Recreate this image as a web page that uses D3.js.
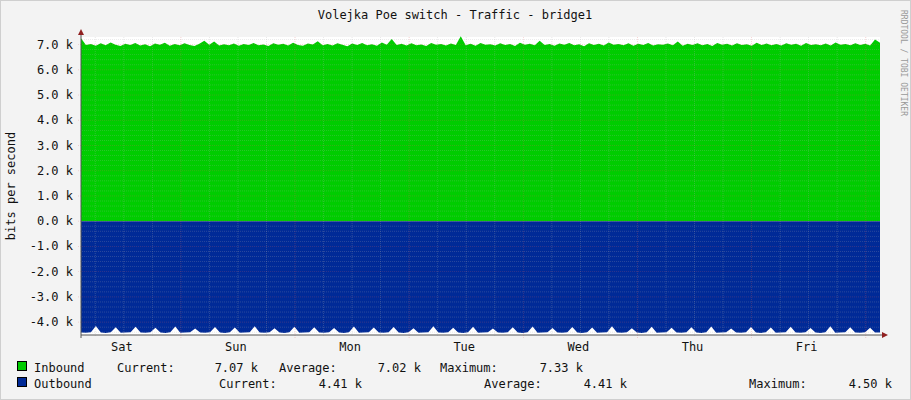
<!DOCTYPE html>
<html><head><meta charset="utf-8">
<script src="https://cdn.jsdelivr.net/npm/d3@7"></script>
<style>body{margin:0;background:#fff}text{font-family:"DejaVu Sans Mono",monospace;}</style>
</head><body><svg id="c" width="911" height="400"></svg>
<script>
const dayLabels=["Sat","Sun","Mon","Tue","Wed","Thu","Fri"];
const yTicks=[-4,-3,-2,-1,0,1,2,3,4,5,6,7];
const inbound=[7.25,6.98,7.02,6.95,7.05,6.97,7.08,6.99,6.94,7.03,6.98,7.06,6.96,7.01,6.93,7.04,6.99,7.07,6.95,7.02,6.97,7.05,6.98,6.94,7.03,7.15,6.99,7.12,6.96,7.01,6.97,7.04,6.95,7.02,6.98,7.06,6.97,7.00,6.94,7.05,6.99,7.03,6.96,7.07,6.98,6.95,7.04,7.00,7.13,6.97,7.02,6.96,7.05,6.99,6.93,7.04,6.98,7.06,6.97,7.01,6.95,7.08,6.99,7.22,6.98,7.03,6.96,7.05,6.97,7.00,6.94,7.06,6.99,7.02,6.96,7.04,6.98,7.33,6.97,7.03,6.95,7.06,6.99,7.01,6.96,7.05,6.98,7.02,6.94,7.07,6.99,7.03,6.97,7.15,6.98,7.02,6.95,7.04,6.99,7.06,6.97,7.01,6.93,7.05,6.98,7.03,6.96,7.08,6.99,7.02,6.97,7.05,6.95,7.03,6.98,7.06,6.96,7.01,6.99,7.04,6.97,7.12,6.95,7.03,6.98,7.05,6.97,7.02,6.94,7.06,6.99,7.03,6.96,7.05,6.98,7.01,6.95,7.07,6.98,7.04,6.97,7.02,6.96,7.05,6.99,7.03,6.95,7.06,6.98,7.01,6.97,7.04,6.96,7.08,6.99,7.02,6.97,7.05,6.98,7.03,6.96,7.20,7.07];
const outbound=[-4.41,-4.42,-4.40,-4.15,-4.41,-4.43,-4.40,-4.20,-4.42,-4.41,-4.40,-4.18,-4.41,-4.42,-4.40,-4.22,-4.41,-4.43,-4.40,-4.17,-4.42,-4.41,-4.40,-4.25,-4.41,-4.42,-4.40,-4.19,-4.41,-4.43,-4.40,-4.21,-4.42,-4.41,-4.40,-4.16,-4.41,-4.42,-4.40,-4.24,-4.41,-4.43,-4.40,-4.18,-4.42,-4.41,-4.40,-4.20,-4.41,-4.42,-4.40,-4.23,-4.41,-4.43,-4.40,-4.17,-4.42,-4.41,-4.40,-4.21,-4.41,-4.42,-4.40,-4.19,-4.41,-4.43,-4.40,-4.24,-4.42,-4.41,-4.40,-4.16,-4.41,-4.42,-4.40,-4.22,-4.41,-4.43,-4.40,-4.18,-4.42,-4.41,-4.40,-4.25,-4.41,-4.42,-4.40,-4.20,-4.41,-4.43,-4.40,-4.17,-4.42,-4.41,-4.40,-4.23,-4.41,-4.42,-4.40,-4.19,-4.41,-4.43,-4.40,-4.21,-4.42,-4.41,-4.40,-4.16,-4.41,-4.42,-4.40,-4.24,-4.41,-4.43,-4.40,-4.18,-4.42,-4.41,-4.40,-4.22,-4.41,-4.42,-4.40,-4.20,-4.41,-4.43,-4.40,-4.17,-4.42,-4.41,-4.40,-4.25,-4.41,-4.42,-4.40,-4.19,-4.41,-4.43,-4.40,-4.21,-4.42,-4.41,-4.40,-4.18,-4.41,-4.42,-4.40,-4.23,-4.41,-4.43,-4.40,-4.16,-4.42,-4.41,-4.40,-4.20,-4.41,-4.42,-4.40,-4.22,-4.41,-4.41];
const svg=d3.select("#c");
svg.append("rect").attr("width",911).attr("height",400).attr("fill","#f3f3f3");
svg.append("rect").attr("x",0.5).attr("y",0.5).attr("width",910).attr("height",399).attr("fill","none").attr("stroke","#cfcfcf");
const L=81,R=880,T=37,B=335;
const hours=7*24, firstMid=21;
const x=d3.scaleLinear().domain([0,hours]).range([L,R]);
const y=d3.scaleLinear().domain([-4.51,7.3]).range([B,T]);
svg.append("rect").attr("x",L).attr("y",T).attr("width",R-L).attr("height",B-T).attr("fill","#fff");
const mk=(arr,curve)=>{const st=hours/(arr.length-1);
  return d3.area().curve(curve).x((d,i)=>x(i*st)).y0(y(0)).y1(d=>y(d));};
svg.append("path").datum(inbound).attr("d",mk(inbound,d3.curveLinear)).attr("fill","#00cc00");
svg.append("path").datum(outbound).attr("d",mk(outbound,d3.curveLinear)).attr("fill","#002a97");
const g=svg.append("g");
for(let h=firstMid-18;h<=hours;h+=6){ if(h<=0)continue;
  const major=((h-firstMid)%24===0);
  g.append("line").attr("x1",x(h)).attr("x2",x(h)).attr("y1",T).attr("y2",B+(major?3:2))
   .attr("stroke",major?"#e06060":"#b0b0b0").attr("stroke-width",0.6).attr("stroke-dasharray","1,1").attr("opacity",0.45);}
for(let k=-22;k<=36;k++){ const vv=k/5; const major=(k%5===0);
  g.append("line").attr("x1",L-(major?3:1)).attr("x2",R).attr("y1",y(vv)).attr("y2",y(vv))
   .attr("stroke",major?"#e06060":"#b0b0b0").attr("stroke-width",0.6).attr("stroke-dasharray","1,1").attr("opacity",0.4);}
yTicks.forEach(t=>svg.append("text").attr("x",73).attr("y",y(t)+4).attr("text-anchor","end").attr("font-size",12).attr("fill","#111").text(t.toFixed(1)+" k"));
dayLabels.forEach((d,i)=>svg.append("text").attr("x",x(firstMid-12+24*i)-2).attr("y",351).attr("text-anchor","middle").attr("font-size",12).attr("fill","#111").text(d));
svg.append("line").attr("x1",L).attr("x2",R+4).attr("y1",B).attr("y2",B).attr("stroke","#555");
svg.append("line").attr("x1",L).attr("x2",L).attr("y1",B+3).attr("y2",T-5).attr("stroke","#555");
svg.append("path").attr("d",`M${L-3},${T-2}L${L+3},${T-2}L${L},${T-8}Z`).attr("fill","#902020");
svg.append("path").attr("d",`M${R+2},${B-3}L${R+2},${B+3}L${R+8},${B}Z`).attr("fill","#902020");
svg.append("text").attr("x",455).attr("y",19).attr("text-anchor","middle").attr("font-size",12).attr("fill","#111").text("Volejka Poe switch - Traffic - bridge1");
svg.append("text").attr("transform","translate(15,186) rotate(-90)").attr("text-anchor","middle").attr("font-size",12).attr("fill","#111").text("bits per second");
svg.append("text").attr("transform","translate(901,10) rotate(90)").attr("font-size",8).attr("fill","#999").text("RRDTOOL / TOBI OETIKER");
const leg=[["#00cc00",372,[["Inbound",34,"start"],["Current:",117,"start"],["7.07 k",258,"end"],["Average:",279,"start"],["7.02 k",421,"end"],["Maximum:",440,"start"],["7.33 k",583,"end"]]],
["#002a97",388,[["Outbound",34,"start"],["Current:",219,"start"],["4.41 k",362,"end"],["Average:",484,"start"],["4.41 k",627,"end"],["Maximum:",749,"start"],["4.50 k",892,"end"]]]];
leg.forEach(([c,yy,items])=>{
  svg.append("rect").attr("x",17.5).attr("y",yy-10.5).attr("width",9).attr("height",9).attr("fill",c).attr("stroke","#000");
  items.forEach(([t,xx,a])=>svg.append("text").attr("x",xx).attr("y",yy).attr("text-anchor",a).attr("font-size",12).attr("fill","#111").text(t));
});
</script></body></html>
